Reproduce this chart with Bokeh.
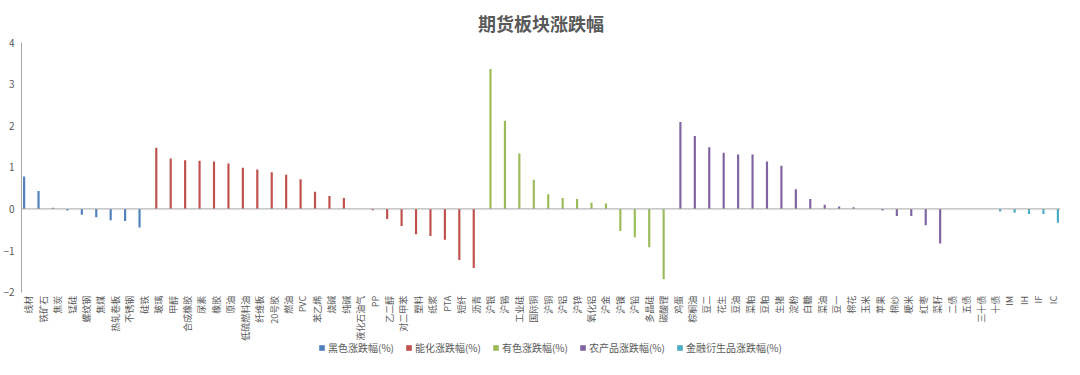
import math
from bokeh.plotting import figure
from bokeh.models import (ColumnDataSource, Legend, LegendItem, Span, FactorRange,
                          FixedTicker, Range1d)
from bokeh.core.properties import value
from bokeh.transform import dodge
from bokeh.embed import file_html
from bokeh.resources import INLINE

# ---------------- data ----------------
black_cats = ["线材", "铁矿石", "焦炭", "锰硅", "螺纹钢", "焦煤", "热轧卷板", "不锈钢", "硅铁"]
black_vals = [0.78, 0.43, 0.03, -0.04, -0.14, -0.20, -0.27, -0.29, -0.45]

chem_cats = ["玻璃", "甲醇", "合成橡胶", "尿素", "橡胶", "原油", "低硫燃料油", "纤维板",
             "20号胶", "燃油", "PVC", "苯乙烯", "烧碱", "纯碱", "液化石油气", "PP",
             "乙二醇", "对二甲苯", "塑料", "纸浆", "PTA", "短纤", "沥青"]
chem_vals = [1.47, 1.21, 1.17, 1.16, 1.14, 1.09, 0.99, 0.95,
             0.88, 0.82, 0.71, 0.41, 0.31, 0.26, 0.0, -0.03,
             -0.24, -0.41, -0.61, -0.65, -0.74, -1.23, -1.42]

metal_cats = ["沪银", "沪锡", "工业硅", "国际铜", "沪铜", "沪铝", "沪锌", "氧化铝",
              "沪金", "沪镍", "沪铅", "多晶硅", "碳酸锂"]
metal_vals = [3.36, 2.12, 1.33, 0.70, 0.35, 0.26, 0.24, 0.15,
              0.13, -0.53, -0.68, -0.92, -1.69]

agri_cats = ["鸡蛋", "棕榈油", "豆二", "花生", "豆油", "菜粕", "豆粕", "生猪", "淀粉",
             "白糖", "菜油", "豆一", "棉花", "玉米", "苹果", "棉纱", "粳米", "红枣", "菜籽"]
agri_vals = [2.09, 1.75, 1.48, 1.35, 1.31, 1.31, 1.14, 1.04, 0.47,
             0.24, 0.10, 0.06, 0.04, 0.0, -0.04, -0.17, -0.17, -0.39, -0.83]

fin_cats = ["二债", "五债", "三十债", "十债", "IM", "IH", "IF", "IC"]
fin_vals = [0.0, 0.0, 0.0, -0.06, -0.09, -0.12, -0.12, -0.33]

series_names = ["黑色涨跌幅(%)", "能化涨跌幅(%)", "有色涨跌幅(%)", "农产品涨跌幅(%)", "金融衍生品涨跌幅(%)"]
series_colors = ["#4F81BD", "#C0504D", "#9BBB59", "#8064A2", "#4BACC6"]
y_ticks = [-2, -1, 0, 1, 2, 3, 4]
y_axis_bounds = (-2, 4)

all_cats = black_cats + chem_cats + metal_cats + agri_cats + fin_cats

FONT = "Noto Sans CJK SC"
GRAY = "#595959"

# the frame extends below -2 to hold the category labels and the legend
p = figure(x_range=FactorRange(*all_cats), y_range=Range1d(-3.62, 4),
           width=1064, height=359, output_backend="svg", toolbar_location=None,
           min_border_left=12, min_border_right=4, min_border_top=0, min_border_bottom=0)

p.title.text = "期货板块涨跌幅"
p.title.align = "center"
p.title.text_font = FONT
p.title.text_font_size = "18px"
p.title.text_font_style = "bold"
p.title.text_color = GRAY
p.title.standoff = 14

p.xgrid.visible = False
p.ygrid.visible = False
p.outline_line_color = None
p.xaxis.visible = False

p.yaxis.bounds = y_axis_bounds
p.yaxis.ticker = FixedTicker(ticks=y_ticks)
p.yaxis.axis_line_color = "#A6A6A6"
p.yaxis.major_tick_line_color = None
p.yaxis.minor_tick_line_color = None
p.yaxis.major_label_text_color = GRAY
p.yaxis.major_label_text_font = FONT
p.yaxis.major_label_text_font_size = "10px"
p.yaxis.major_label_standoff = 1

groups = [(black_cats, black_vals), (chem_cats, chem_vals), (metal_cats, metal_vals),
          (agri_cats, agri_vals), (fin_cats, fin_vals)]
offsets = [-0.32, -0.16, 0.0, 0.16, 0.32]

items = []
for (cats, vals), off, name, col in zip(groups, offsets, series_names, series_colors):
    src = ColumnDataSource(dict(cat=cats, val=vals))
    r = p.vbar(x=dodge("cat", off, range=p.x_range), top="val", bottom=0, width=0.15,
               source=src, fill_color=col, line_color=None)
    items.append(LegendItem(label=name, renderers=[r]))

p.add_layout(Span(location=0, dimension="width", line_color="#A6A6A6", line_width=1))

# category labels, hanging under the bottom of the value axis, reading bottom-to-top
label_src = ColumnDataSource(dict(cat=all_cats))
p.text(x="cat", y=y_axis_bounds[0] - 0.09, text="cat", source=label_src,
       angle=math.pi / 2, text_align="right", text_baseline="middle",
       text_font=value(FONT), text_font_size=value("9px"), text_color=GRAY)

legend = Legend(items=items, orientation="horizontal", location=(297, 4),
                label_text_font=FONT, label_text_font_size="10px", label_text_color=GRAY,
                glyph_width=7, glyph_height=7, label_standoff=3, spacing=11,
                label_height=12, label_text_line_height=1.0,
                border_line_color=None, background_fill_alpha=0, padding=0, margin=0)
p.add_layout(legend)

open("out.html", "w").write(file_html(p, INLINE))
